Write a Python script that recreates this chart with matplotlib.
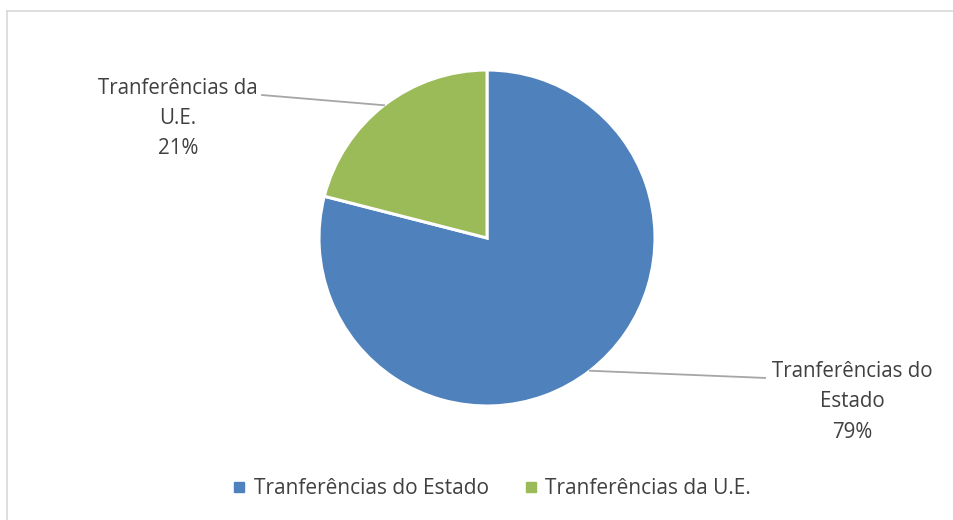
import numpy as np
import matplotlib
matplotlib.use("Agg")
import matplotlib.pyplot as plt
from matplotlib.lines import Line2D

categories = ["Tranferências do Estado", "Tranferências da U.E."]
values = [79, 21]
label_texts = ["Tranferências do\nEstado\n79%", "Tranferências da\nU.E.\n21%"]
colors = ["#4F81BD", "#9BBB59"]

W, H = 954, 520
fig = plt.figure(figsize=(W / 100, H / 100), dpi=100)
fig.patch.set_facecolor("white")
plt.rcParams['font.family'] = ['Open Sans', 'DejaVu Sans']
txt_color = "#404040"

# chart border (top and left visible)
fig.add_artist(Line2D([7 / W, 1.0], [1 - 11 / H, 1 - 11 / H], color="#d9d9d9", lw=1.2))
fig.add_artist(Line2D([7 / W, 7 / W], [0.0, 1 - 11 / H], color="#d9d9d9", lw=1.2))

cx, cy, r = 487, 238, 168
ax = fig.add_axes([(cx - r) / W, (H - cy - r) / H, 2 * r / W, 2 * r / H])
ax.axis("off")

wedges, _ = ax.pie(values, colors=colors, startangle=90, counterclock=False,
                   radius=1, center=(0, 0),
                   wedgeprops=dict(edgecolor="white", linewidth=2.2))
ax.set_xlim(-1, 1)
ax.set_ylim(-1, 1)

# leader line ends and label centers (data units, radius = 1)
line_ends = [(1.655, -0.833), (-1.339, 0.851)]
label_pos = [(2.173, -0.975), (-1.839, 0.710)]
for w, le, lp, t in zip(wedges, line_ends, label_pos, label_texts):
    ang = np.deg2rad((w.theta1 + w.theta2) / 2)
    x0, y0 = np.cos(ang), np.sin(ang)
    ax.plot([x0, le[0]], [y0, le[1]], color="#a6a6a6", lw=1.3, clip_on=False)
    ax.text(lp[0], lp[1], t, ha="center", va="center", fontsize=14.8,
            color=txt_color, linespacing=1.58, clip_on=False)

handles = [Line2D([], [], marker="s", ls="none", markersize=6.5,
                  markerfacecolor=c, markeredgecolor=c) for c in colors]
fig.legend(handles, categories, loc="center", bbox_to_anchor=(492 / W, 1 - 489 / H),
           ncol=2, frameon=False, fontsize=15, handlelength=0.6,
           handletextpad=0.39, columnspacing=1.72, labelcolor=txt_color)

fig.savefig("out.png", dpi=100, facecolor="white")
